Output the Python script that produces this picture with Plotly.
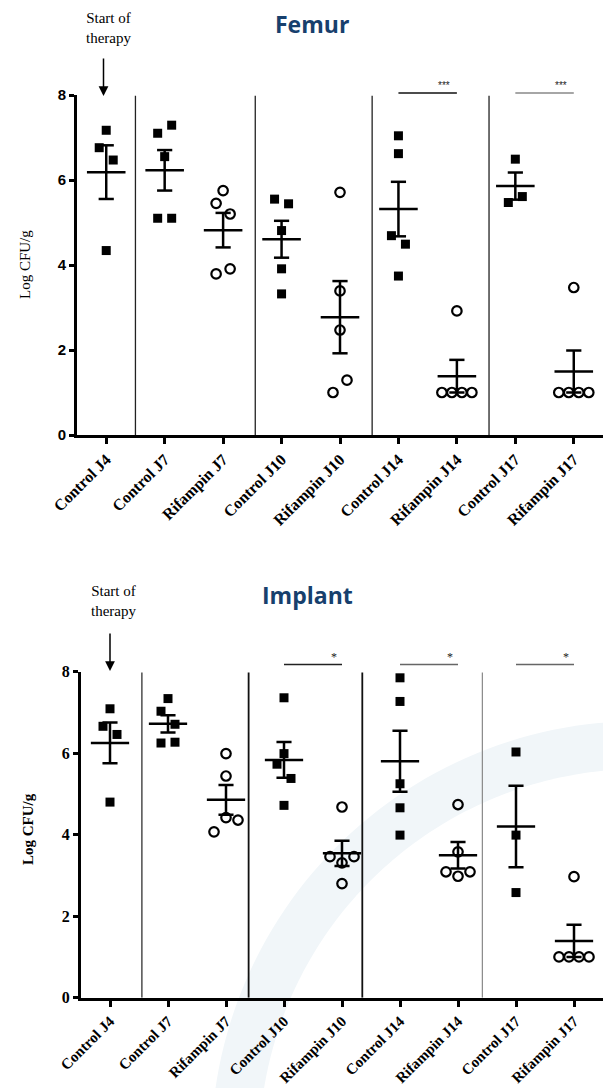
import numpy as np
import plotly.graph_objects as go

# Browser page has an 8px body margin, so the figure is drawn 8px in from the top-left corner
PAGE_W, PAGE_H, OFF = 611, 1088, 8
W, H = PAGE_W - OFF, PAGE_H - OFF

categories = ["Control J4", "Control J7", "Rifampin J7", "Control J10", "Rifampin J10",
              "Control J14", "Rifampin J14", "Control J17", "Rifampin J17"]
y_ticks = [0, 2, 4, 6, 8]

# Femur (Log CFU/g)
femur_ctrl_j4 = [7.17, 6.76, 6.47, 4.34]
femur_ctrl_j7 = [7.10, 7.29, 6.55, 5.10, 5.10]
femur_rif_j7 = [5.75, 5.45, 5.20, 3.79, 3.91]
femur_ctrl_j10 = [5.55, 5.44, 4.81, 3.91, 3.32]
femur_rif_j10 = [5.71, 3.39, 2.47, 1.00, 1.29]
femur_ctrl_j14 = [7.04, 6.62, 4.69, 4.49, 3.74]
femur_rif_j14 = [2.92, 1.00, 1.00, 1.00, 1.00]
femur_ctrl_j17 = [6.49, 5.47, 5.61]
femur_rif_j17 = [3.47, 1.00, 1.00, 1.00, 1.00]

# Implant (Log CFU/g)
implant_ctrl_j4 = [7.09, 6.66, 6.46, 4.80]
implant_ctrl_j7 = [7.34, 7.03, 6.71, 6.25, 6.27]
implant_rif_j7 = [5.99, 5.44, 4.07, 4.42, 4.36]
implant_ctrl_j10 = [7.36, 5.99, 5.73, 5.38, 4.72]
implant_rif_j10 = [4.68, 3.46, 3.31, 3.46, 2.80]
implant_ctrl_j14 = [7.85, 7.27, 5.25, 4.66, 3.99]
implant_rif_j14 = [4.74, 3.58, 3.09, 2.98, 3.09]
implant_ctrl_j17 = [6.03, 3.99, 2.58]
implant_rif_j17 = [2.97, 1.00, 1.00, 1.00, 1.00]

femur_sig = [("Control J14", "Rifampin J14", "***"), ("Control J17", "Rifampin J17", "***")]
implant_sig = [("Control J10", "Rifampin J10", "*"), ("Control J14", "Rifampin J14", "*"),
               ("Control J17", "Rifampin J17", "*")]

femur_values = [femur_ctrl_j4, femur_ctrl_j7, femur_rif_j7, femur_ctrl_j10, femur_rif_j10,
                femur_ctrl_j14, femur_rif_j14, femur_ctrl_j17, femur_rif_j17]
implant_values = [implant_ctrl_j4, implant_ctrl_j7, implant_rif_j7, implant_ctrl_j10, implant_rif_j10,
                  implant_ctrl_j14, implant_rif_j14, implant_ctrl_j17, implant_rif_j17]


def px(x):
    return (x - OFF) / W


def py(y):
    return 1 - (y - OFF) / H


panels = [
    dict(title="Femur", values=femur_values, sig=femur_sig, sfx="",
         x0=77, x1=603, ytop=95, ybot=435, xfont=16,
         title_xy=(312, 24), start_xy=(108, 28), arrow=(103.5, 96, 39),
         ylab_xy=(25, 265), ylab_bold=False,
         tickfont=dict(family="Liberation Sans, Arial", size=15, color="black", weight="bold"),
         seps=[(0.5, 1.3, "#222"), (2.55, 1.3, "#222"), (4.55, 1.3, "#222"), (6.55, 1.3, "#222")],
         sig_y=93, sig_colors=["#111", "#888"], star_font=dict(family="Liberation Sans, Arial", size=10, color="#222"),
         star_dy=8, star_dx=-0.22),
    dict(title="Implant", values=implant_values, sig=implant_sig, sfx="2",
         x0=81, x1=603, ytop=671.7, ybot=997.7, xfont=15,
         title_xy=(307, 595), start_xy=(113, 601), arrow=(110, 671, 39),
         ylab_xy=(28, 829), ylab_bold=True,
         tickfont=dict(family="Liberation Serif, Times New Roman", size=16, color="black", weight="bold"),
         seps=[(0.55, 1.2, "#222"), (2.39, 1.8, "#111"), (4.35, 1.8, "#111"), (6.42, 1.2, "#888")],
         sig_y=664.5, sig_colors=["#222", "#666", "#666"],
         star_font=dict(family="Liberation Serif, Times New Roman", size=12, color="#222"),
         star_dy=8, star_dx=-0.14),
]


def swarm_offsets(vals, ppu_y, ppu_x):
    n = len(vals)
    order = sorted(range(n), key=lambda i: vals[i])
    groups, cur = [], [order[0]]
    for i in order[1:]:
        if (vals[i] - vals[cur[0]]) * ppu_y < 15:
            cur.append(i)
        else:
            groups.append(cur)
            cur = [i]
    groups.append(cur)
    offs = [0.0] * n
    for g in groups:
        g = sorted(g)
        k = len(g)
        step = {1: 0, 2: 14, 3: 12}.get(k, 10)
        for j, i in enumerate(g):
            offs[i] = (j - (k - 1) / 2) * step / ppu_x
    return offs


fig = go.Figure()
shapes, annotations = [], []

# faint background watermark arc (decorative, behind the lower chart)
cx, cy, r = 640, 1150, 405
angs = np.linspace(np.pi * 1.02, np.pi * 1.52, 60)
pts = [(px(cx + r * np.cos(a)), py(cy + r * np.sin(a))) for a in angs]
path = "M " + " L ".join(f"{x:.5f},{y:.5f}" for x, y in pts)
shapes.append(dict(type="path", path=path, xref="paper", yref="paper", layer="below",
                   line=dict(color="#f1f6f9", width=48)))

for p in panels:
    xa, ya = "x" + p["sfx"], "y" + p["sfx"]
    ppu_y = (p["ybot"] - p["ytop"]) / 8.0
    ppu_x = (p["x1"] - p["x0"]) / 9.0
    lx, ly = [], []
    for ci, (cat, vals) in enumerate(zip(categories, p["values"])):
        offs = swarm_offsets(vals, ppu_y, ppu_x)
        is_ctrl = cat.startswith("Control")
        fig.add_trace(go.Scatter(
            x=[ci + o for o in offs], y=vals, mode="markers", xaxis=xa, yaxis=ya,
            showlegend=False, cliponaxis=False, hoverinfo="y",
            marker=dict(symbol="square" if is_ctrl else "circle-open", size=9 if is_ctrl else 9.5,
                        color="black", line=dict(width=2.2 if not is_ctrl else 0, color="black"))))
        arr = np.array(vals, dtype=float)
        m = arr.mean()
        s = arr.std(ddof=1) / np.sqrt(len(arr))
        lx += [ci - 0.33, ci + 0.33, None, ci, ci, None, ci - 0.13, ci + 0.13, None, ci - 0.13, ci + 0.13, None]
        ly += [m, m, None, m - s, m + s, None, m + s, m + s, None, m - s, m - s, None]
    fig.add_trace(go.Scatter(x=lx, y=ly, mode="lines", xaxis=xa, yaxis=ya, showlegend=False,
                             cliponaxis=False, hoverinfo="skip",
                             line=dict(color="black", width=2.5)))

    # axes
    fig.update_layout(**{
        "xaxis" + p["sfx"]: dict(domain=[px(p["x0"]), px(p["x1"])], range=[-0.5, 8.5], anchor=ya,
                                 automargin=False,
                                 tickmode="array", tickvals=list(range(len(categories))), ticktext=categories,
                                 tickangle=-45, ticks="outside", ticklen=6, tickwidth=2.5, tickcolor="black",
                                 showline=True, linewidth=3, linecolor="black", showgrid=False, zeroline=False,
                                 tickfont=dict(family="Liberation Serif, Times New Roman", size=p["xfont"],
                                               color="black", weight="bold")),
        "yaxis" + p["sfx"]: dict(domain=[py(p["ybot"]), py(p["ytop"])], range=[0, 8], anchor=xa,
                                 automargin=False,
                                 tickmode="array", tickvals=y_ticks, ticks="outside", ticklen=5,
                                 tickwidth=2.5, tickcolor="black", showline=True, linewidth=3,
                                 linecolor="black", showgrid=False, zeroline=False,
                                 tickfont=p["tickfont"]),
    })

    # group separators
    for xs, lw, col in p["seps"]:
        shapes.append(dict(type="line", xref=xa, yref=ya, x0=xs, x1=xs, y0=0, y1=7.98,
                           line=dict(color=col, width=lw)))

    # significance bars
    for (a, b, stars), col in zip(p["sig"], p["sig_colors"]):
        ia, ib = categories.index(a), categories.index(b)
        shapes.append(dict(type="line", xref=xa, yref="paper", x0=ia, x1=ib,
                           y0=py(p["sig_y"]), y1=py(p["sig_y"]), line=dict(color=col, width=1.5)))
        annotations.append(dict(text=stars, xref=xa, yref="paper", x=ib + p["star_dx"],
                                y=py(p["sig_y"] - p["star_dy"]), showarrow=False, font=p["star_font"],
                                xanchor="center", yanchor="middle"))

    # title
    annotations.append(dict(text="<b>" + p["title"] + "</b>", xref="paper", yref="paper",
                            x=px(p["title_xy"][0]), y=py(p["title_xy"][1]), showarrow=False,
                            xanchor="center", yanchor="middle", borderpad=0,
                            font=dict(family="Open Sans", size=23, color="#17406d")))
    # start of therapy
    annotations.append(dict(text="Start of<br>therapy", xref="paper", yref="paper",
                            x=px(p["start_xy"][0]), y=py(p["start_xy"][1]), showarrow=False,
                            xanchor="center", yanchor="middle",
                            font=dict(family="Liberation Serif, Times New Roman", size=15, color="black")))
    ax_, ay_, alen = p["arrow"]
    annotations.append(dict(text="", xref="paper", yref="paper", x=px(ax_), y=py(ay_),
                            axref="pixel", ayref="pixel", ax=0, ay=-alen, showarrow=True,
                            arrowhead=2, arrowsize=1.3, arrowwidth=1.5, arrowcolor="black"))
    # y label
    lab = "Log CFU/g"
    if p["ylab_bold"]:
        lab = "<b>" + lab + "</b>"
    annotations.append(dict(text=lab, xref="paper", yref="paper", x=px(p["ylab_xy"][0]),
                            y=py(p["ylab_xy"][1]), showarrow=False, textangle=-90,
                            xanchor="center", yanchor="middle",
                            font=dict(family="Liberation Serif, Times New Roman", size=15, color="black")))

fig.update_layout(width=W, height=H, margin=dict(l=0, r=0, t=0, b=0),
                  paper_bgcolor="white", plot_bgcolor="rgba(0,0,0,0)",
                  shapes=shapes, annotations=annotations, showlegend=False)

fig.write_html("out.html")
